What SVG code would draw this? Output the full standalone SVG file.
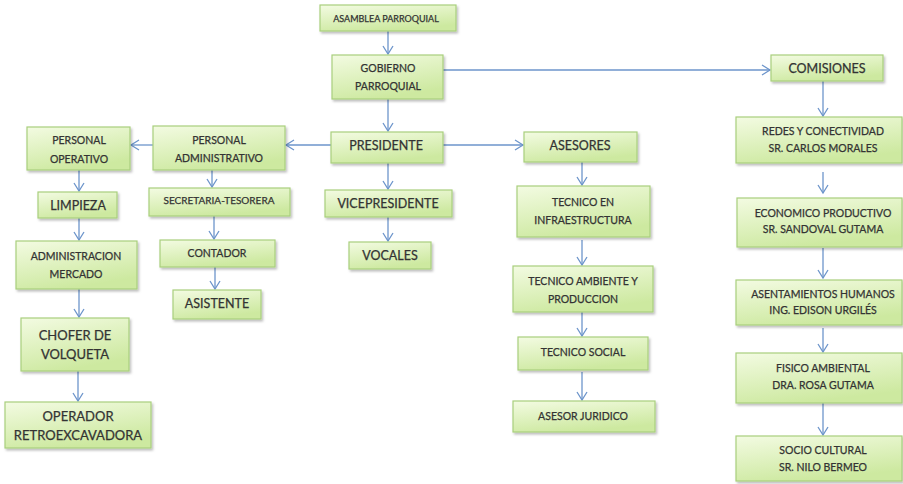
<svg xmlns="http://www.w3.org/2000/svg" width="903" height="484" viewBox="0 0 903 484">
<style>
.b{fill:url(#g);stroke:#a9cf7d;stroke-width:1.2;filter:url(#sh)}
text{font-family:Lato,"Liberation Sans",sans-serif;fill:#333;stroke:#333;stroke-width:0.25;text-anchor:middle;dominant-baseline:central}
.c line{stroke:#6d95cb;stroke-width:1.3;fill:none}
</style>
<defs>
<linearGradient id="g" x1="0" y1="0" x2="0.4" y2="1">
<stop offset="0" stop-color="#f3fbe2"/>
<stop offset="1" stop-color="#cde9a0"/>
</linearGradient>
<filter id="sh" x="-10%" y="-10%" width="130%" height="140%">
<feDropShadow dx="1.5" dy="2" stdDeviation="1.2" flood-color="#000" flood-opacity="0.25"/>
</filter>
<marker id="a" markerWidth="12" markerHeight="12" refX="10" refY="6" orient="auto" markerUnits="userSpaceOnUse">
<polyline points="2,1 10,6 2,11" fill="none" stroke="#6d95cb" stroke-width="1.3"/>
</marker>
</defs>
<g class="c">
<line x1="388" y1="31" x2="388" y2="54" marker-end="url(#a)"/>
<line x1="443" y1="70" x2="770" y2="70" marker-end="url(#a)"/>
<line x1="388" y1="99" x2="388" y2="131" marker-end="url(#a)"/>
<line x1="331" y1="145" x2="286" y2="145" marker-end="url(#a)"/>
<line x1="153" y1="145" x2="131" y2="145" marker-end="url(#a)"/>
<line x1="443" y1="145" x2="523" y2="145" marker-end="url(#a)"/>
<line x1="388" y1="163" x2="388" y2="189" marker-end="url(#a)"/>
<line x1="388" y1="217" x2="388" y2="241" marker-end="url(#a)"/>
<line x1="582" y1="162" x2="582" y2="185" marker-end="url(#a)"/>
<line x1="582" y1="240" x2="582" y2="265" marker-end="url(#a)"/>
<line x1="582" y1="312" x2="582" y2="336" marker-end="url(#a)"/>
<line x1="582" y1="372" x2="582" y2="400" marker-end="url(#a)"/>
<line x1="823" y1="81" x2="823" y2="116" marker-end="url(#a)"/>
<line x1="823" y1="172" x2="823" y2="193" marker-end="url(#a)"/>
<line x1="823" y1="248" x2="823" y2="278" marker-end="url(#a)"/>
<line x1="823" y1="328" x2="823" y2="352" marker-end="url(#a)"/>
<line x1="823" y1="403" x2="823" y2="435" marker-end="url(#a)"/>
<line x1="212" y1="170" x2="212" y2="187" marker-end="url(#a)"/>
<line x1="214" y1="216" x2="214" y2="239" marker-end="url(#a)"/>
<line x1="215" y1="267" x2="215" y2="289" marker-end="url(#a)"/>
<line x1="79" y1="170" x2="79" y2="191" marker-end="url(#a)"/>
<line x1="79" y1="218" x2="79" y2="240" marker-end="url(#a)"/>
<line x1="79" y1="289" x2="79" y2="317" marker-end="url(#a)"/>
<line x1="78" y1="371" x2="78" y2="401" marker-end="url(#a)"/>
</g>
<g id="asamblea"><rect class="b" x="320" y="5" width="136" height="26"/><text x="386" y="18" font-size="9">ASAMBLEA  PARROQUIAL</text></g>
<g id="gobierno"><rect class="b" x="332" y="55" width="111" height="44"/><text x="388" y="68" font-size="10.5">GOBIERNO</text><text x="388" y="86" font-size="10.5">PARROQUIAL</text></g>
<g id="comisiones"><rect class="b" x="771" y="55" width="112" height="26"/><text x="827" y="68" font-size="12.5">COMISIONES</text></g>
<g id="presidente"><rect class="b" x="331" y="132" width="112" height="31"/><text x="386" y="145" font-size="12.5">PRESIDENTE</text></g>
<g id="asesores"><rect class="b" x="524" y="132" width="113" height="30"/><text x="580" y="145" font-size="12.5">ASESORES</text></g>
<g id="vicepresidente"><rect class="b" x="325" y="190" width="127" height="27"/><text x="388" y="203" font-size="12.5">VICEPRESIDENTE</text></g>
<g id="vocales"><rect class="b" x="349" y="242" width="82" height="27"/><text x="390" y="255" font-size="12.5">VOCALES</text></g>
<g id="tec-infra"><rect class="b" x="517" y="186" width="133" height="51"/><text x="583" y="202" font-size="10.5">TECNICO  EN</text><text x="583" y="220" font-size="10.5">INFRAESTRUCTURA</text></g>
<g id="tec-ambiente"><rect class="b" x="513" y="266" width="140" height="46"/><text x="583" y="281" font-size="10.5">TECNICO  AMBIENTE  Y</text><text x="583" y="299" font-size="10.5">PRODUCCION</text></g>
<g id="tec-social"><rect class="b" x="518" y="337" width="130" height="33"/><text x="583" y="352" font-size="10.5">TECNICO  SOCIAL</text></g>
<g id="asesor-juridico"><rect class="b" x="513" y="401" width="142" height="31"/><text x="583" y="416" font-size="10.5">ASESOR JURIDICO</text></g>
<g id="redes"><rect class="b" x="736" y="117" width="166" height="46"/><text x="823" y="131" font-size="10.5">REDES  Y CONECTIVIDAD</text><text x="823" y="148" font-size="10.5">SR. CARLOS MORALES</text></g>
<g id="economico"><rect class="b" x="737" y="198" width="165" height="49"/><text x="823" y="213" font-size="10.5">ECONOMICO  PRODUCTIVO</text><text x="823" y="229" font-size="10.5">SR. SANDOVAL GUTAMA</text></g>
<g id="asentamientos"><rect class="b" x="736" y="280" width="166" height="45"/><text x="823" y="294" font-size="10.5">ASENTAMIENTOS HUMANOS</text><text x="823" y="310" font-size="10.5">ING. EDISON URGILÉS</text></g>
<g id="fisico"><rect class="b" x="736" y="353" width="166" height="50"/><text x="823" y="368" font-size="10.5">FISICO AMBIENTAL</text><text x="823" y="385" font-size="10.5">DRA. ROSA GUTAMA</text></g>
<g id="socio"><rect class="b" x="736" y="436" width="166" height="45"/><text x="823" y="450" font-size="10.5">SOCIO CULTURAL</text><text x="823" y="467" font-size="10.5">SR. NILO BERMEO</text></g>
<g id="personal-operativo"><rect class="b" x="27" y="127" width="103" height="43"/><text x="79" y="140" font-size="10.5">PERSONAL</text><text x="79" y="159" font-size="10.5">OPERATIVO</text></g>
<g id="personal-admin"><rect class="b" x="153" y="126" width="132" height="44"/><text x="219" y="140" font-size="10.5">PERSONAL</text><text x="219" y="158" font-size="10.5">ADMINISTRATIVO</text></g>
<g id="secretaria"><rect class="b" x="149" y="188" width="141" height="28"/><text x="219" y="200" font-size="10">SECRETARIA-TESORERA</text></g>
<g id="contador"><rect class="b" x="160" y="240" width="115" height="27"/><text x="217" y="253" font-size="10.5">CONTADOR</text></g>
<g id="asistente"><rect class="b" x="173" y="290" width="88" height="29"/><text x="217" y="303" font-size="12.5">ASISTENTE</text></g>
<g id="limpieza"><rect class="b" x="38" y="192" width="79" height="26"/><text x="78" y="205" font-size="12.5">LIMPIEZA</text></g>
<g id="admin-mercado"><rect class="b" x="16" y="241" width="121" height="48"/><text x="76" y="256" font-size="10.5">ADMINISTRACION</text><text x="76" y="274" font-size="10.5">MERCADO</text></g>
<g id="chofer"><rect class="b" x="21" y="318" width="108" height="53"/><text x="75" y="335" font-size="13">CHOFER DE</text><text x="75" y="354" font-size="13">VOLQUETA</text></g>
<g id="operador"><rect class="b" x="5" y="402" width="146" height="46"/><text x="78" y="416" font-size="13">OPERADOR</text><text x="78" y="435" font-size="13">RETROEXCAVADORA</text></g>
</svg>
